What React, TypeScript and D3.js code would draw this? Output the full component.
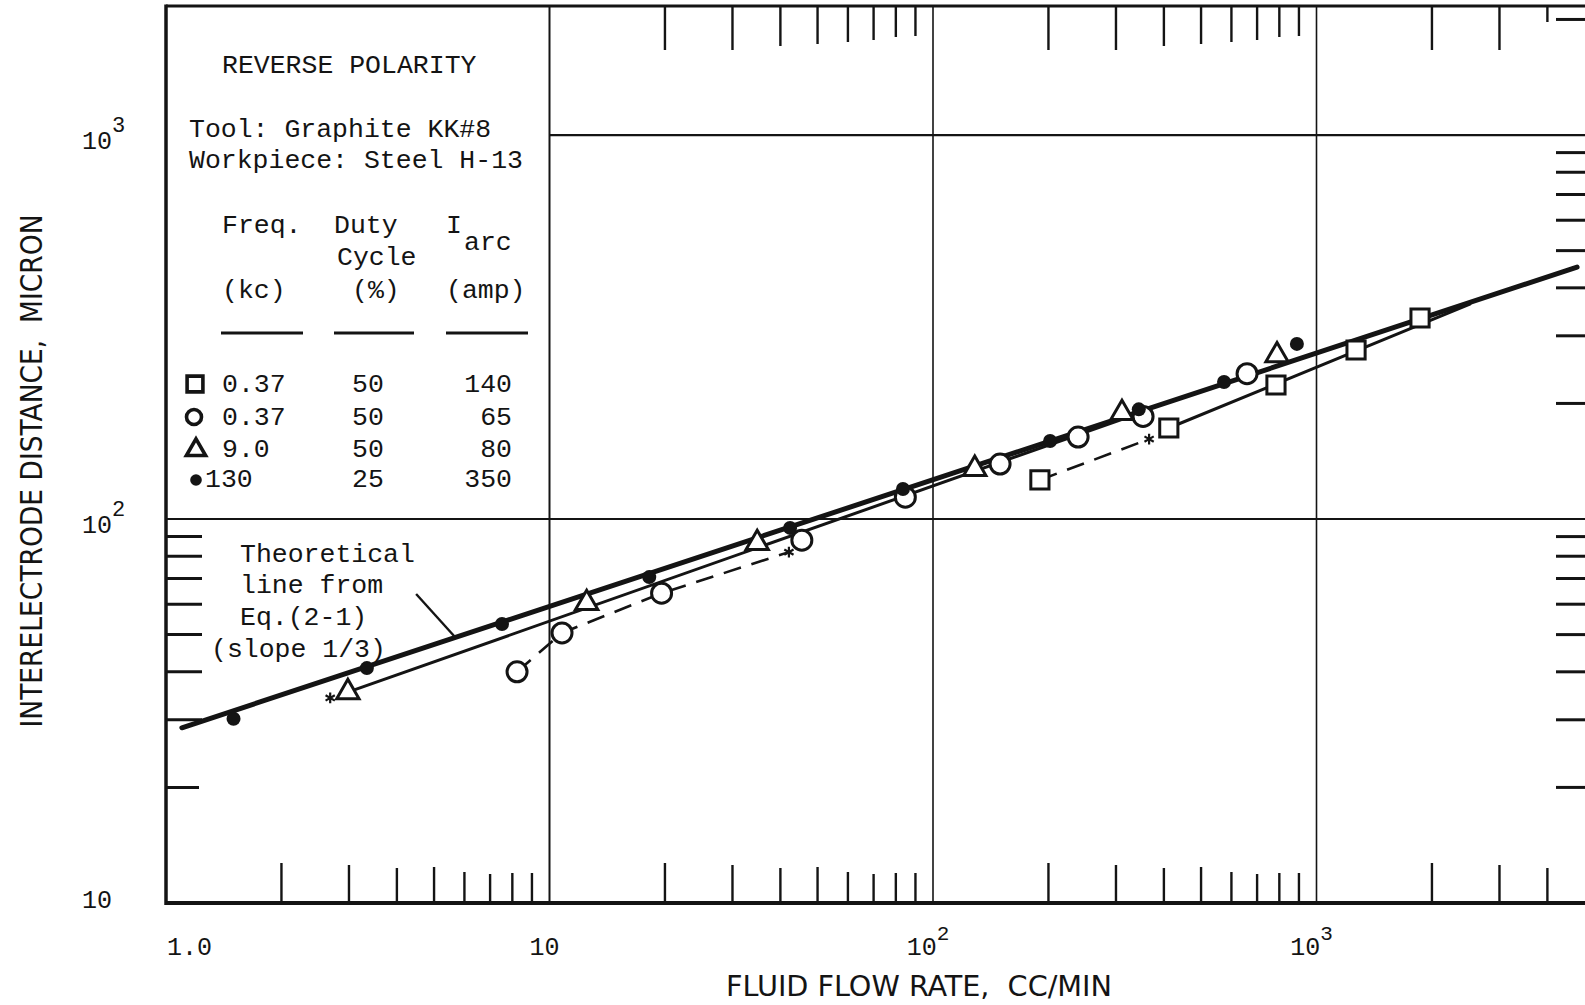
import React from "react";
import * as d3 from "d3";

const W = 1585;
const H = 1005;

// fluid flow rate (cc/min) , interelectrode distance (micron)
const dots130 = [[1.5, 30.2], [3.34, 40.9], [7.52, 53.3], [18.2, 70.6], [42.4, 94.8], [83.5, 119.7], [202, 159.7], [344, 193], [574, 227.5], [889, 285.8]];
const circles037 = [[8.23, 40], [10.78, 50.5], [19.6, 64.1], [45.5, 88.1], [84.7, 114], [149.6, 139], [239, 163.5], [353, 185], [659, 239]];
const triangles90 = [[2.98, 35.4], [12.5, 60.4], [34.8, 86.6], [128.5, 135], [311, 188.8], [789, 267]];
const squares037 = [[190, 126.4], [412, 172.6], [784, 223.4], [1268, 275.5], [1862, 333.8]];
const stars = [[2.68, 34.2], [42.1, 82], [366, 161.5]];

// drawn lines
const theoryLine = [[1.1, 28.6], [4780, 453]];
const triangleLine = [[2.98, 35.4], [316.7, 183]];
const squareLine = [[412, 172.6], [2512, 363]];
const circleDash = [[8.23, 40], [10.78, 50.5], [19.6, 64.1], [42.1, 82]];
const squareDash = [[190, 126.4], [366, 161.5]];
const pointer = [[4.49, 63.8], [5.67, 49.3]];

// axes
const xMajor = [1, 10, 100, 1000];
const xTickBase = ["1.0", "10", "10", "10"];
const xTickExp = ["", "", "2", "3"];
const yMajor = [10, 100, 1000];
const yTickBase = ["10", "10", "10"];
const yTickExp = ["", "2", "3"];
const minorMult = [2, 3, 4, 5, 6, 7, 8, 9];

// legend table
const legendFreq = ["0.37", "0.37", "9.0", "130"];
const legendDuty = ["50", "50", "50", "25"];
const legendArc = ["140", "65", "80", "350"];

const TYPE = "'Liberation Mono', 'Courier New', monospace";
const SANS = "'Liberation Sans Narrow', 'DejaVu Sans Condensed', 'Liberation Sans', sans-serif";
const INK = "#141414";

export default function App() {
  const x = d3.scaleLog().domain([1, 5000]).range([166, 166 + 383.5 * Math.log10(5000)]);
  const y = d3.scaleLog().domain([10, 2168]).range([903, 6]);
  const line = d3.line<number[]>().x((d) => x(d[0])).y((d) => y(d[1]));

  const left = x(1);
  const right = W + 10;
  const top = y(2168);
  const bottom = y(10);

  const minors = (decade: number, upTo = 9) => minorMult.filter((m) => m <= upTo).map((m) => ({ v: m * decade, m }));
  const topLen = [0, 0, 44, 44, 40, 38, 36, 34, 31, 30];
  const botLen = [0, 0, 40, 38, 35, 36, 31, 29, 30, 30];

  const topTicks = [...minors(10), ...minors(100), ...minors(1000, 4)];
  const botTicks = [...minors(1), ...minors(10), ...minors(100), ...minors(1000, 4)];
  const leftTicks = minors(10);
  const rightTicks = [...minors(10), ...minors(100), ...minors(1000, 2)];

  const tri = d3.symbol(d3.symbolTriangle, 215)();
  const triSmall = d3.symbol(d3.symbolTriangle, 160)();
  const sq = d3.symbol(d3.symbolSquare, 330)();
  const sqSmall = d3.symbol(d3.symbolSquare, 250)();
  const ast = d3.symbol(d3.symbolAsterisk, 80)();

  const rowY = [392, 425, 457, 487];

  return (
    <svg width={W} height={H} style={{ position: "absolute", left: 0, top: 0, background: "#fff" }}>
      <rect x={0} y={0} width={W} height={H} fill="#fff" />

      {/* grid */}
      <g stroke={INK} fill="none">
        {[100, 1000].map((v) => (
          <line key={"gx" + v} x1={x(v)} x2={x(v)} y1={top} y2={bottom} strokeWidth={1.6} />
        ))}
        <line x1={x(10)} x2={x(10)} y1={top} y2={bottom} strokeWidth={2} />
        <line x1={left} x2={right} y1={y(100)} y2={y(100)} strokeWidth={2.2} />
        <line x1={x(10)} x2={right} y1={y(1000)} y2={y(1000)} strokeWidth={2.2} />
      </g>

      {/* ticks */}
      <g stroke={INK} strokeWidth={2.4}>
        {topTicks.map((t) => (
          <line key={"t" + t.v} x1={x(t.v)} x2={x(t.v)} y1={top} y2={top + (t.v === 4000 ? 16 : topLen[t.m])} />
        ))}
        {botTicks.map((t) => (
          <line key={"b" + t.v} x1={x(t.v)} x2={x(t.v)} y1={bottom} y2={bottom - botLen[t.m]} />
        ))}
        {leftTicks.map((t) => (
          <line key={"l" + t.v} x1={left} x2={left + (t.m === 2 ? 33 : 36)} y1={y(t.v)} y2={y(t.v)} strokeWidth={3} />
        ))}
        {rightTicks.map((t) => (
          <line key={"r" + t.v} x1={W - 29} x2={W} y1={y(t.v)} y2={y(t.v)} strokeWidth={3} />
        ))}
      </g>

      {/* frame */}
      <g stroke={INK} fill="none">
        <line x1={left} x2={left} y1={top - 1.5} y2={bottom + 2} strokeWidth={3.5} />
        <line x1={left} x2={right} y1={top} y2={top} strokeWidth={3} />
        <line x1={left} x2={right} y1={bottom} y2={bottom} strokeWidth={4} />
      </g>

      {/* legend */}
      <g fontFamily={TYPE} fontSize={26.5} fill={INK}>
        <text x={222} y={73}>REVERSE POLARITY</text>
        <text x={189} y={137}>Tool: Graphite KK#8</text>
        <text x={189} y={168}>Workpiece: Steel H-13</text>
        <text x={222} y={233}>Freq.</text>
        <text x={334} y={233}>Duty</text>
        <text x={337} y={265}>Cycle</text>
        <text x={446} y={233}>I</text>
        <text x={464} y={250}>arc</text>
        <text x={222} y={298}>(kc)</text>
        <text x={352} y={298}>(%)</text>
        <text x={446} y={298}>(amp)</text>
        {legendFreq.map((f, i) => (
          <g key={"row" + i}>
            <text x={i === 3 ? 205 : 222} y={rowY[i]}>{f}</text>
            <text x={352} y={rowY[i]}>{legendDuty[i]}</text>
            <text x={512} y={rowY[i]} textAnchor="end">{legendArc[i]}</text>
          </g>
        ))}
      </g>
      <g stroke={INK} strokeWidth={3}>
        <line x1={221} x2={303} y1={333} y2={333} />
        <line x1={334} x2={414} y1={333} y2={333} />
        <line x1={446} x2={528} y1={333} y2={333} />
      </g>
      <g stroke={INK} strokeWidth={3.6} fill="#fff">
        <path d={sqSmall!} transform={`translate(195,${rowY[0] - 8})`} />
        <circle cx={194} cy={rowY[1] - 8} r={7.5} />
        <path d={triSmall!} transform={`translate(196,${rowY[2] - 7})`} />
        <circle cx={196} cy={rowY[3] - 7} r={5.8} fill={INK} stroke="none" />
      </g>

      {/* annotation */}
      <g fontFamily={TYPE} fontSize={26.5} fill={INK}>
        <text x={240} y={562}>Theoretical</text>
        <text x={240} y={593}>line from</text>
        <text x={240} y={625}>Eq.(2-1)</text>
        <text x={211} y={657}>(slope 1/3)</text>
      </g>
      <path d={line(pointer)!} stroke={INK} strokeWidth={2.4} fill="none" />

      {/* fitted lines */}
      <g fill="none" stroke={INK} strokeLinecap="round">
        <path d={line(theoryLine)!} strokeWidth={5} />
        <path d={line(triangleLine)!} strokeWidth={3} />
        <path d={line(squareLine)!} strokeWidth={3} />
        <path d={line(circleDash)!} strokeWidth={2.6} strokeDasharray="18 11" strokeLinecap="butt" />
        <path d={line(squareDash)!} strokeWidth={2.6} strokeDasharray="18 11" strokeLinecap="butt" />
      </g>

      {/* points */}
      <g stroke={INK} strokeWidth={3} fill="#fff">
        {circles037.map((d, i) => (
          <circle key={"c" + i} cx={x(d[0])} cy={y(d[1])} r={10} />
        ))}
        {squares037.map((d, i) => (
          <path key={"s" + i} d={sq!} transform={`translate(${x(d[0])},${y(d[1])})`} />
        ))}
        {triangles90.map((d, i) => (
          <path key={"tr" + i} d={tri!} transform={`translate(${x(d[0])},${y(d[1])})`} />
        ))}
        {dots130.map((d, i) => (
          <circle key={"d" + i} cx={x(d[0])} cy={y(d[1])} r={7} fill={INK} stroke="none" />
        ))}
        {stars.map((d, i) => (
          <path key={"a" + i} d={ast!} transform={`translate(${x(d[0])},${y(d[1])})`} strokeWidth={2.2} fill="none" />
        ))}
      </g>

      {/* tick labels */}
      <g fontFamily={TYPE} fill={INK}>
        {xMajor.map((v, i) => (
          <text key={"xl" + v} x={i === 0 ? x(v) + 1 : x(v) - 5} y={955} fontSize={25} textAnchor={i === 0 ? "start" : "middle"}>
            {xTickBase[i]}
            {xTickExp[i] && (
              <tspan dy={-15} fontSize={21}>{xTickExp[i]}</tspan>
            )}
          </text>
        ))}
        {yMajor.map((v, i) => (
          <text key={"yl" + v} x={82} y={y(v) + (v === 10 ? 5 : 14)} fontSize={25}>
            {yTickBase[i]}
            {yTickExp[i] && (
              <tspan dy={-17} fontSize={22}>{yTickExp[i]}</tspan>
            )}
          </text>
        ))}
      </g>

      {/* axis titles */}
      <text x={726} y={996} fontFamily={SANS} fontSize={29} fill={INK} textLength={386} lengthAdjust="spacingAndGlyphs" style={{ whiteSpace: "pre" }}>
        FLUID FLOW RATE,  CC/MIN
      </text>
      <text transform="translate(42,471) rotate(-90)" textAnchor="middle" fontFamily={SANS} fontSize={30} fill={INK} textLength={513} lengthAdjust="spacingAndGlyphs" style={{ whiteSpace: "pre" }}>
        INTERELECTRODE DISTANCE,  MICRON
      </text>
    </svg>
  );
}
